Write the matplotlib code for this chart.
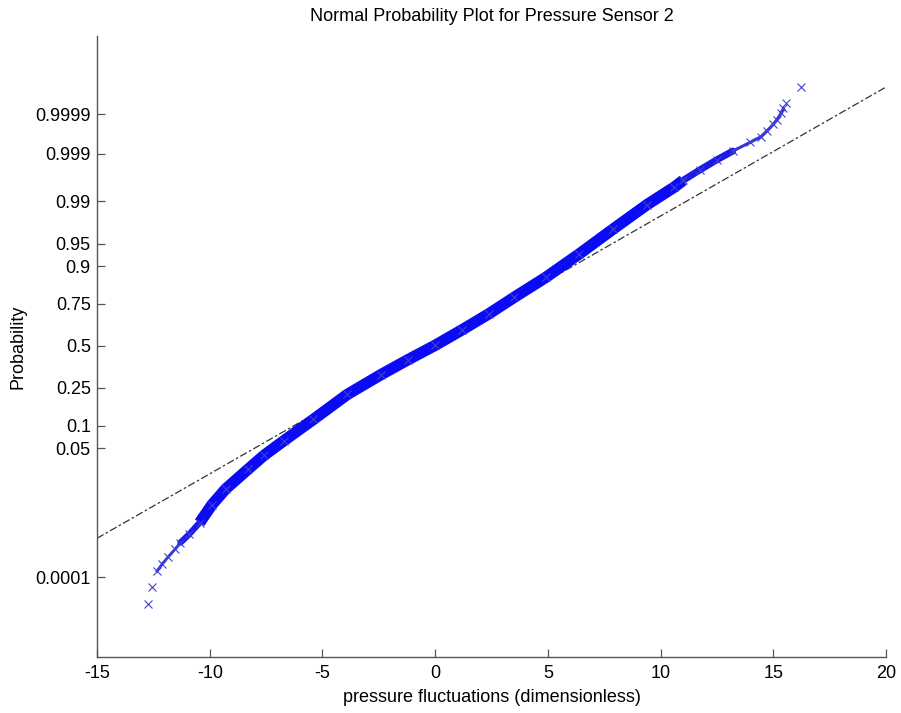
#!/usr/bin/env python3
from statistics import NormalDist
import numpy as np
import matplotlib
matplotlib.use("Agg")
import matplotlib.pyplot as plt
from matplotlib.ticker import FixedLocator, FixedFormatter

# sorted pressure fluctuations vs. their plotting probability
sample_x = [-12.75, -12.57, -12.35, -12.10, -11.85, -11.55, -11.30, -10.90,
            -10.45, -9.90, -9.30, -8.30, -7.60, -6.70, -5.40, -3.90, -2.40,
            -1.20, 0.00, 1.20, 2.40, 3.50, 4.90, 6.40, 7.90, 9.40, 10.60,
            11.00, 11.75, 12.50, 13.20, 13.97, 14.45, 14.71, 15.00, 15.15,
            15.35, 15.45, 15.55, 16.23]
sample_p = [1.66e-5, 5.22e-5, 1.47e-4, 2.33e-4, 3.49e-4, 5.38e-4, 7.89e-4,
            1.264e-3, 2.256e-3, 5.39e-3, 0.01072, 0.02385, 0.0392, 0.0643,
            0.119, 0.2177, 0.3228, 0.4129, 0.504, 0.6026, 0.6985, 0.7823,
            0.8643, 0.9306, 0.9699, 0.9884, 0.99461, 0.99609, 0.99767,
            0.99861, 0.999126, 0.999462, 0.99961, 0.99972, 0.999815,
            0.999858, 0.999908, 0.999933, 0.999952, 0.999984]

# fitted normal reference line, extended to the axis limits
ref_x = [-15, 20]
ref_p = [0.0010, 0.999984]

prob_ticks = [0.0001, 0.05, 0.1, 0.25, 0.5, 0.75, 0.9, 0.95, 0.99, 0.999, 0.9999]
prob_labels = ["0.0001", "0.05", "0.1", "0.25", "0.5", "0.75", "0.9", "0.95",
               "0.99", "0.999", "0.9999"]
x_ticks = [-15, -10, -5, 0, 5, 10, 15, 20]

ND = NormalDist()
_ppf = np.vectorize(lambda p: ND.inv_cdf(min(max(float(p), 1e-12), 1 - 1e-12)),
                    otypes=[float])
_cdf = np.vectorize(lambda z: ND.cdf(float(z)), otypes=[float])


def forward(p):
    return _ppf(np.asarray(p, dtype=float))


def inverse(z):
    return _cdf(np.asarray(z, dtype=float))


def band(ax, xs, ps, lo, hi, lw, color, cap="butt"):
    m = (xs >= lo) & (xs <= hi)
    ax.plot(xs[m], ps[m], color=color, lw=lw, solid_capstyle=cap,
            solid_joinstyle="round", zorder=2)


def main():
    plt.rcParams["font.family"] = ["Liberation Sans", "DejaVu Sans"]
    plt.rcParams["axes.unicode_minus"] = False
    fig = plt.figure(figsize=(9.01, 7.13), dpi=100)
    ax = fig.add_axes([0.1077, 0.0785, 0.8757, 0.871])
    ax.set_yscale("function", functions=(forward, inverse))

    # reference line
    ax.plot(ref_x, ref_p, color="#333333", lw=0.9, ls=(0, (6, 2, 2, 2)), zorder=1)

    xs = np.array(sample_x)
    ps = np.array(sample_p)
    # dense middle of the sample shows as a solid band of crosses,
    # thinning out towards the tails
    band(ax, xs, ps, -12.40, -11.30, 2.0, "#3434dc", "round")
    band(ax, xs, ps, -11.30, -10.45, 4.5, "#1c1ce8", "round")
    band(ax, xs, ps, -10.45, 11.00, 8.2, "#0a0af5")
    band(ax, xs, ps, 11.00, 13.20, 5.0, "#1a1ae8", "round")
    band(ax, xs, ps, 13.20, 15.45, 2.2, "#3434dc", "round")
    ax.plot(xs, ps, ls="none", marker="x", ms=5.5, mew=0.8,
            color="#4040d0", zorder=3)

    ax.set_xlim(-15, 20)
    ax.set_ylim(2.9e-7, 1 - 3.2e-7)
    ax.xaxis.set_major_locator(FixedLocator(x_ticks))
    ax.yaxis.set_major_locator(FixedLocator(prob_ticks))
    ax.yaxis.set_major_formatter(FixedFormatter(prob_labels))
    ax.yaxis.set_minor_locator(FixedLocator([]))

    for side in ("top", "right"):
        ax.spines[side].set_visible(False)
    for side in ("left", "bottom"):
        ax.spines[side].set_color("#555555")
        ax.spines[side].set_linewidth(1.0)
    ax.tick_params(direction="in", length=6, width=0.9, color="#555555",
                   labelsize=13, labelcolor="black")
    ax.tick_params(axis="y", pad=4.5)
    ax.tick_params(axis="x", pad=6)

    ax.set_title("Normal Probability Plot for Pressure Sensor 2", fontsize=13, pad=11)
    ax.set_xlabel("pressure fluctuations (dimensionless)", fontsize=13, labelpad=5)
    ax.set_ylabel("Probability", fontsize=13, labelpad=6)

    fig.savefig("out.png", dpi=100)


if __name__ == "__main__":
    main()
